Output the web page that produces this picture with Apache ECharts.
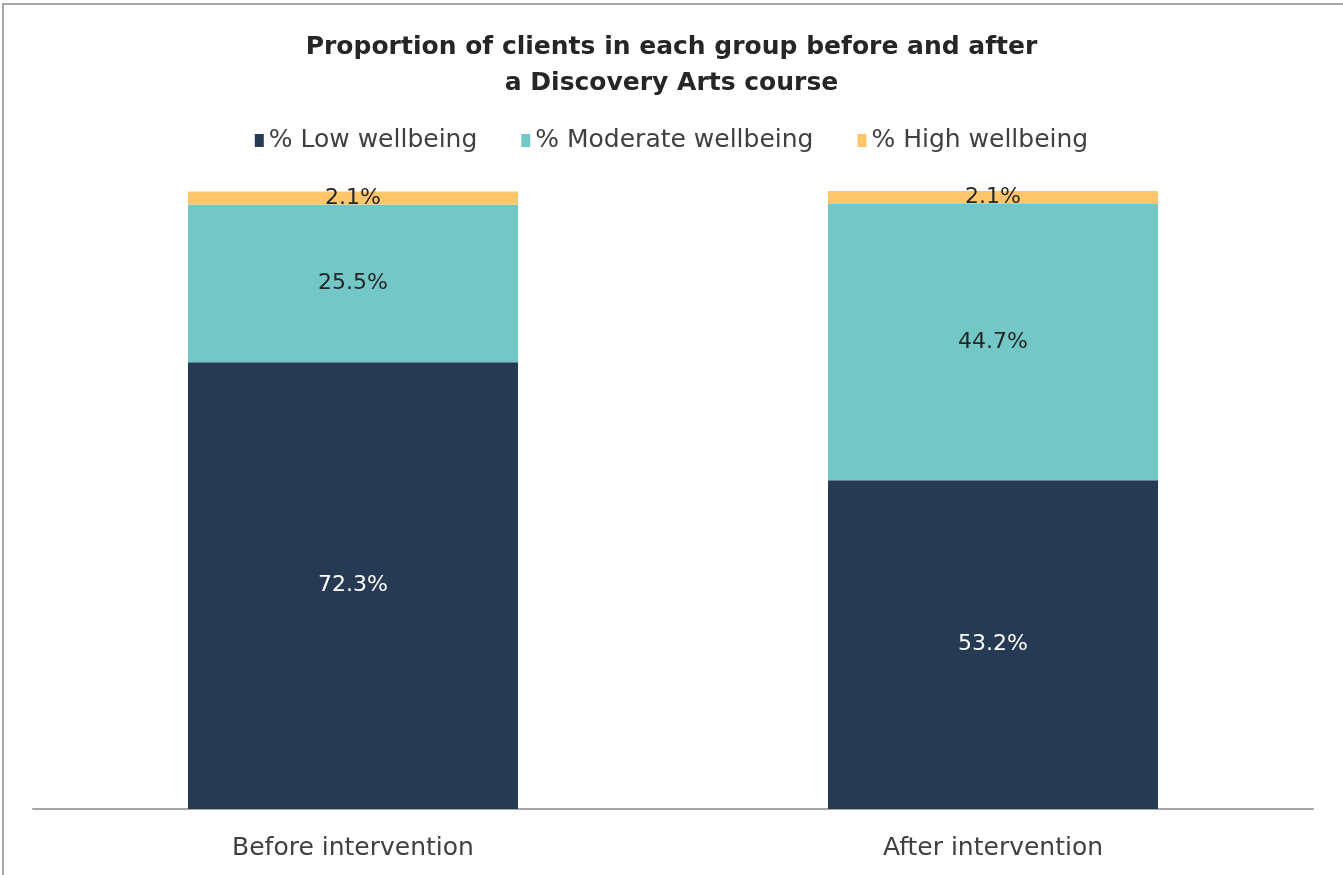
<!DOCTYPE html>
<html>
<head>
<meta charset="utf-8">
<script src="https://cdn.jsdelivr.net/npm/echarts@6/dist/echarts.min.js"></script>
<style>
html,body{margin:0;padding:0;background:#fff;}
#wrap{position:absolute;left:0;top:0;width:1343px;height:875px;}
#border{position:absolute;left:2px;top:3px;width:1400px;height:900px;border:2px solid #a6a6a6;box-sizing:border-box;}
#chart{position:absolute;left:0;top:0;width:1343px;height:875px;}
</style>
</head>
<body>
<div id="wrap"><div id="border"></div><div id="chart"></div></div>
<script>
const categories = ['Before intervention', 'After intervention'];
const seriesNames = ['% Low wellbeing', '% Moderate wellbeing', '% High wellbeing'];
const lowValues = [72.3, 53.2];
const moderateValues = [25.5, 44.7];
const highValues = [2.1, 2.1];

const colors = ['#263A53', '#73C8C7', '#FDC66B'];
const labelColors = ['#ffffff', '#262626', '#262626'];
const font = '"DejaVu Sans", sans-serif';
const dataSets = [lowValues, moderateValues, highValues];

const chart = echarts.init(document.getElementById('chart'), null, {renderer: 'canvas'});
chart.setOption({
  backgroundColor: 'transparent',
  animation: false,
  title: {
    text: 'Proportion of clients in each group before and after\na Discovery Arts course',
    left: 'center',
    top: 24,
    textStyle: {fontFamily: font, fontSize: 25, fontWeight: 'bold', color: '#262626', lineHeight: 36}
  },
  legend: {
    top: 123,
    left: 'center',
    itemWidth: 9,
    itemHeight: 13,
    itemGap: 44,
    icon: 'rect',
    textStyle: {fontFamily: font, fontSize: 25, color: '#404040'},
    data: seriesNames
  },
  grid: {left: 33, right: 30, top: 191, bottom: 66, containLabel: false},
  xAxis: {
    type: 'category',
    data: categories,
    axisLine: {lineStyle: {color: '#a6a6a6', width: 2}},
    axisTick: {show: false},
    axisLabel: {fontFamily: font, fontSize: 25, color: '#404040', margin: 27}
  },
  yAxis: {
    type: 'value', min: 0, max: 100,
    show: false,
    splitLine: {show: false}
  },
  series: seriesNames.map((name, i) => ({
    name: name,
    type: 'bar',
    stack: 'total',
    barWidth: 330,
    data: dataSets[i],
    itemStyle: {color: colors[i]},
    label: {
      show: true,
      position: 'inside',
      formatter: p => p.value.toFixed(1) + '%',
      fontFamily: font,
      fontSize: 22,
      color: labelColors[i]
    }
  }))
});
</script>
</body>
</html>
